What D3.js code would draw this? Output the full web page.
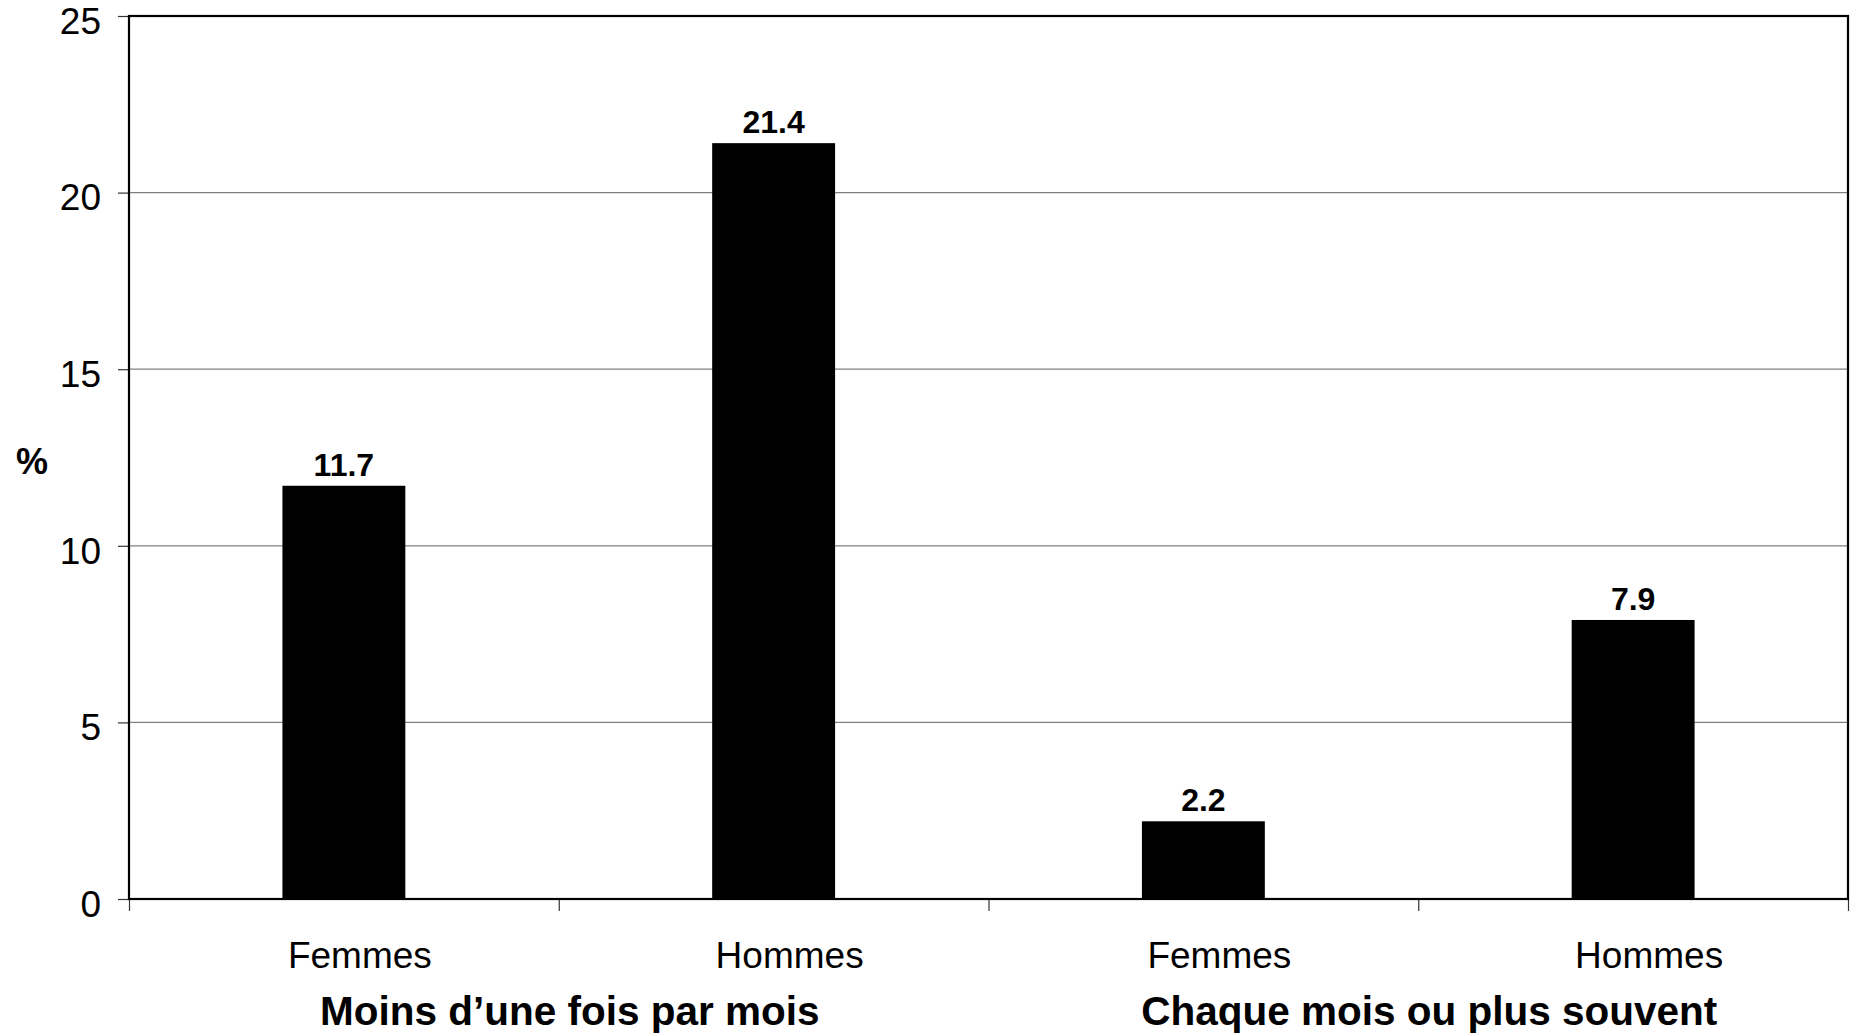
<!DOCTYPE html>
<html>
<head>
<meta charset="utf-8">
<script src="https://cdn.jsdelivr.net/npm/d3@7"></script>
<style>
  body { margin: 0; background: #fff; }
  text { font-family: "Liberation Sans", Arial, sans-serif; fill: #000; }
</style>
</head>
<body>
<div id="chart"></div>
<script>
// Data
var categories = ["Femmes", "Hommes", "Femmes", "Hommes"];
var groups = ["Moins d\u2019une fois par mois", "Chaque mois ou plus souvent"];
var values = [11.7, 21.4, 2.2, 7.9];
var yTicks = [0, 5, 10, 15, 20, 25];

var width = 1854, height = 1035;
var plotL = 129, plotR = 1848, plotT = 16, plotB = 899;

var svg = d3.select("#chart")
  .append("svg")
  .attr("width", width)
  .attr("height", height);

var x = d3.scaleBand()
  .domain(d3.range(categories.length))
  .range([plotL, plotR]);

// edges of the category cells, for the bottom ticks
var xEdge = d3.scaleLinear()
  .domain([0, categories.length])
  .range([plotL, plotR]);

var xGroup = d3.scaleBand()
  .domain(groups)
  .range([plotL, plotR]);

var y = d3.scaleLinear()
  .domain([0, 25])
  .range([plotB, plotT]);

// gridlines
svg.append("g")
  .selectAll("line")
  .data(yTicks.filter(function(d) { return d > 0 && d < 25; }))
  .enter()
  .append("line")
  .attr("x1", plotL)
  .attr("x2", plotR)
  .attr("y1", function(d) { return y(d); })
  .attr("y2", function(d) { return y(d); })
  .attr("stroke", "#808080")
  .attr("stroke-width", 1.2);

// bars
var barW = x.bandwidth() * 0.286;
svg.append("g")
  .selectAll("rect")
  .data(values)
  .enter()
  .append("rect")
  .attr("x", function(d, i) { return x(i) + x.bandwidth() / 2 - barW / 2; })
  .attr("y", function(d) { return y(d); })
  .attr("width", barW)
  .attr("height", function(d) { return plotB - y(d); })
  .attr("fill", "#000");

// value labels
svg.append("g")
  .selectAll("text")
  .data(values)
  .enter()
  .append("text")
  .attr("x", function(d, i) { return x(i) + x.bandwidth() / 2; })
  .attr("y", function(d) { return y(d) - 10; })
  .attr("text-anchor", "middle")
  .attr("font-size", 32)
  .attr("font-weight", "bold")
  .text(function(d) { return d.toFixed(1); });

// y axis
var yAxis = svg.append("g")
  .attr("transform", "translate(" + plotL + ",0)")
  .call(d3.axisLeft(y).tickValues(yTicks).tickSize(11).tickPadding(17));
yAxis.select(".domain").remove();
yAxis.selectAll(".tick line").attr("stroke", "#333").attr("stroke-width", 1.2);
yAxis.selectAll(".tick text")
  .attr("font-size", 37)
  .attr("font-family", "Liberation Sans, Arial, sans-serif")
  .attr("dy", "0.47em");

// x axis ticks at cell edges
var xAxis = svg.append("g")
  .attr("transform", "translate(0," + plotB + ")")
  .call(d3.axisBottom(xEdge).tickValues(d3.range(categories.length + 1)).tickFormat("").tickSize(12));
xAxis.select(".domain").remove();
xAxis.selectAll(".tick line").attr("stroke", "#333").attr("stroke-width", 1.2);

// frame
svg.append("rect")
  .attr("x", plotL)
  .attr("y", plotT)
  .attr("width", plotR - plotL)
  .attr("height", plotB - plotT)
  .attr("fill", "none")
  .attr("stroke", "#000")
  .attr("stroke-width", 2.2);

// category labels
svg.append("g")
  .selectAll("text")
  .data(categories)
  .enter()
  .append("text")
  .attr("x", function(d, i) { return x(i) + x.bandwidth() / 2 + 16; })
  .attr("y", 968)
  .attr("text-anchor", "middle")
  .attr("font-size", 37)
  .text(function(d) { return d; });

// group labels
svg.append("g")
  .selectAll("text")
  .data(groups)
  .enter()
  .append("text")
  .attr("x", function(d) { return xGroup(d) + xGroup.bandwidth() / 2 + 11; })
  .attr("y", 1025)
  .attr("text-anchor", "middle")
  .attr("font-size", 40.5)
  .attr("font-weight", "bold")
  .text(function(d) { return d; });

// y label
svg.append("text")
  .attr("x", 32)
  .attr("y", (plotT + plotB) / 2 + 16)
  .attr("text-anchor", "middle")
  .attr("font-size", 36)
  .attr("font-weight", "bold")
  .text("%");
</script>
</body>
</html>
